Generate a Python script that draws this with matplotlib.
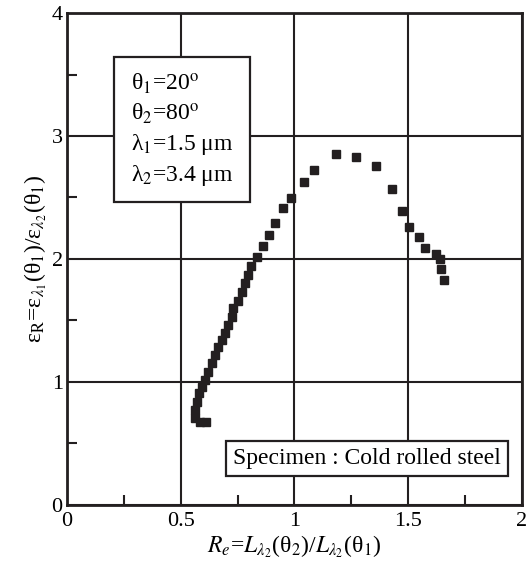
import matplotlib
matplotlib.use('Agg')
import matplotlib.pyplot as plt
from matplotlib.patches import Rectangle
from matplotlib.ticker import MultipleLocator

re_vals = [0.610, 0.585, 0.563, 0.563, 0.570, 0.580, 0.592, 0.607, 0.621, 0.636,
           0.651, 0.665, 0.680, 0.695, 0.709, 0.724, 0.731, 0.753, 0.771, 0.782,
           0.797, 0.807, 0.837, 0.860, 0.889, 0.913, 0.948, 0.983, 1.042, 1.088,
           1.182, 1.270, 1.358, 1.429, 1.474, 1.505, 1.546, 1.575, 1.622, 1.640,
           1.645, 1.657]
eps_r = [0.677, 0.677, 0.705, 0.772, 0.840, 0.908, 0.962, 1.016, 1.084, 1.152,
         1.220, 1.287, 1.341, 1.396, 1.463, 1.531, 1.599, 1.661, 1.734, 1.807,
         1.870, 1.943, 2.019, 2.106, 2.198, 2.295, 2.417, 2.499, 2.629, 2.724,
         2.851, 2.832, 2.756, 2.567, 2.393, 2.258, 2.179, 2.092, 2.041, 1.997,
         1.916, 1.829]

x_ticks = [0, 0.5, 1, 1.5, 2]
x_tick_labels = ['0', '0.5', '1', '1.5', '2']
y_ticks = [0, 1, 2, 3, 4]

params_text = ['θ$_1$=20$^{\\rm o}$',
               'θ$_2$=80$^{\\rm o}$',
               'λ$_1$=1.5 μm',
               'λ$_2$=3.4 μm']
specimen_text = 'Specimen : Cold rolled steel'

plt.rcParams['font.family'] = ['Liberation Serif', 'DejaVu Serif']
plt.rcParams['mathtext.fontset'] = 'stix'

fig = plt.figure(figsize=(5.31, 5.71), dpi=100)
ax = fig.add_axes([0.126, 0.116, 0.857, 0.861])

ax.plot(re_vals, eps_r, linestyle='none', marker='s', markersize=6.3,
        color='#231f20', zorder=3)

ax.set_xlim(0, 2)
ax.set_ylim(0, 4)
ax.set_xticks(x_ticks)
ax.set_xticklabels(x_tick_labels)
ax.set_yticks(y_ticks)
ax.xaxis.set_minor_locator(MultipleLocator(0.25))
ax.yaxis.set_minor_locator(MultipleLocator(0.5))
ax.tick_params(which='both', direction='in', labelsize=16, color='#231f20',
               width=1.5)
ax.tick_params(axis='x', which='major', pad=5)
ax.tick_params(axis='y', which='major', pad=3)
ax.tick_params(which='major', length=0)
ax.tick_params(which='minor', length=7)
ax.grid(True, which='major', color='#231f20', linewidth=1.5)
for s in ax.spines.values():
    s.set_linewidth(2.0)
    s.set_color('#231f20')

ax.set_xlabel('$R_e$=$L_{λ_2}$(θ$_2$)/$L_{λ_2}$(θ$_1$)', fontsize=17, labelpad=2)
ax.set_ylabel('ε$_{\\rm R}$=ε$_{λ_1}$(θ$_1$)/ε$_{λ_2}$(θ$_1$)', fontsize=17, labelpad=2)

# рамка с параметрами
ax.add_patch(Rectangle((0.103, 0.616), 0.299, 0.295, transform=ax.transAxes,
                       facecolor='white', edgecolor='#231f20', linewidth=1.6, zorder=4))
for i, t in enumerate(params_text):
    ax.text(0.140, 0.857 - i * 0.0625, t, transform=ax.transAxes, fontsize=17,
            va='center', ha='left', zorder=5)

ax.text(0.660, 0.0935, specimen_text, transform=ax.transAxes, fontsize=17,
        ha='center', va='center', zorder=5,
        bbox=dict(boxstyle='square,pad=0.3', facecolor='white',
                  edgecolor='#231f20', linewidth=1.6))

fig.savefig('out.png', dpi=100)
